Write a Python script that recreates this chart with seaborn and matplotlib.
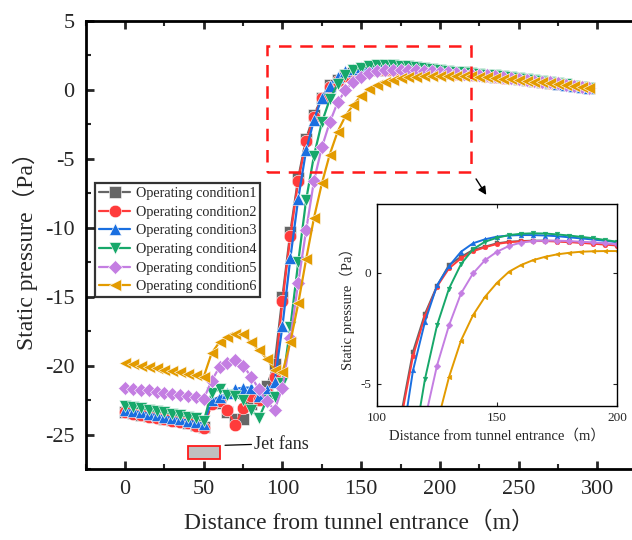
import numpy as np
import pandas as pd
import matplotlib
matplotlib.use("Agg")
import matplotlib.pyplot as plt
import seaborn as sns
from matplotlib.patches import Rectangle
from matplotlib.ticker import MultipleLocator

distance = list(range(0, 300, 5))

cond1 = [-23.35, -23.45, -23.55, -23.65, -23.75, -23.85, -23.95, -24.05, -24.15, -24.3, -24.45,
         -22.7, -22.7, -23.4, -23.9, -23.9, -22.8, -22.5, -21.5, -19.9,
         -15.0, -10.3, -6.4, -3.55, -1.84, -0.59, 0.35, 0.72, 1.03, 1.18, 1.33, 1.40, 1.43, 1.45, 1.45,
         1.43, 1.40, 1.37, 1.34, 1.30, 1.25,
         1.22, 1.18, 1.14, 1.10, 1.05, 1.00, 0.95, 0.89, 0.83, 0.77, 0.71, 0.64, 0.57, 0.50, 0.43,
         0.36, 0.28, 0.20, 0.12]
cond2 = [-23.4, -23.5, -23.6, -23.7, -23.8, -23.9, -24.0, -24.1, -24.2, -24.35, -24.5,
         -22.8, -22.6, -23.2, -24.3, -23.1, -22.2, -22.5, -22.0, -20.8,
         -15.3, -10.6, -6.6, -3.75, -1.95, -0.62, 0.2, 0.65, 0.97, 1.15, 1.30, 1.38, 1.42, 1.43, 1.43,
         1.41, 1.38, 1.35, 1.31, 1.27, 1.23,
         1.20, 1.16, 1.12, 1.08, 1.03, 0.98, 0.93, 0.87, 0.81, 0.75, 0.69, 0.62, 0.55, 0.48, 0.41,
         0.34, 0.26, 0.19, 0.11]
cond3 = [-23.2, -23.3, -23.4, -23.5, -23.6, -23.7, -23.8, -23.9, -24.0, -24.1, -24.25,
         -22.5, -22.3, -22.0, -21.7, -21.6, -21.6, -22.2, -21.8, -21.2,
         -17.1, -12.2, -7.9, -4.4, -2.2, -0.57, 0.30, 0.95, 1.33, 1.51, 1.63, 1.68, 1.70, 1.70, 1.68,
         1.65, 1.60, 1.55, 1.50, 1.44, 1.38,
         1.33, 1.28, 1.23, 1.18, 1.13, 1.07, 1.01, 0.95, 0.89, 0.82, 0.75, 0.68, 0.60, 0.52, 0.44,
         0.36, 0.28, 0.20, 0.13]
cond4 = [-22.9, -23.0, -23.1, -23.2, -23.3, -23.4, -23.5, -23.6, -23.7, -23.8, -24.0,
         -22.0, -21.7, -22.1, -22.2, -22.5, -23.2, -23.8, -22.5, -22.3,
         -21.3, -17.2, -12.5, -8.0, -4.78, -2.37, -0.71, 0.39, 1.06, 1.40, 1.58, 1.70, 1.76, 1.78, 1.77,
         1.73, 1.68, 1.62, 1.56, 1.48, 1.40,
         1.35, 1.30, 1.25, 1.20, 1.15, 1.09, 1.03, 0.97, 0.91, 0.84, 0.77, 0.70, 0.62, 0.54, 0.46,
         0.38, 0.30, 0.22, 0.14]
cond5 = [-21.6, -21.7, -21.75, -21.8, -21.9, -22.0, -22.05, -22.15, -22.2, -22.3, -22.4,
         -21.1, -20.1, -19.8, -19.6, -20.0, -20.8, -21.7, -22.6, -23.2,
         -21.6, -18.0, -14.0, -10.2, -6.6, -4.18, -2.37, -0.93, -0.03, 0.57, 0.95, 1.21, 1.36, 1.43, 1.45,
         1.45, 1.43, 1.40, 1.37, 1.33, 1.28,
         1.25, 1.21, 1.17, 1.13, 1.08, 1.03, 0.98, 0.92, 0.86, 0.80, 0.73, 0.66, 0.59, 0.52, 0.45,
         0.37, 0.29, 0.21, 0.13]
cond6 = [-19.8, -19.9, -20.0, -20.1, -20.2, -20.3, -20.4, -20.5, -20.6, -20.7, -20.8,
         -19.1, -18.3, -17.9, -17.7, -17.7, -18.3, -18.9, -19.5, -20.3,
         -20.5, -18.3, -15.5, -12.3, -9.3, -6.8, -4.7, -3.05, -1.91, -1.08, -0.45, 0.05, 0.35, 0.57, 0.72,
         0.83, 0.90, 0.95, 0.97, 0.98, 0.98,
         0.99, 0.99, 0.98, 0.96, 0.93, 0.89, 0.85, 0.80, 0.75, 0.70, 0.64, 0.58, 0.52, 0.46, 0.39,
         0.32, 0.25, 0.18, 0.11]

labels = ["Operating condition1", "Operating condition2", "Operating condition3",
          "Operating condition4", "Operating condition5", "Operating condition6"]
series = [cond1, cond2, cond3, cond4, cond5, cond6]
colors = ["#666666", "#FF3B3B", "#1A6FE0", "#17A86A", "#C47EE2", "#E39B00"]
markers = ["s", "o", "^", "v", "D", "<"]
msizes = [8, 9, 9, 9, 7.5, 9]

sns.set_style("ticks")
serif = ["Liberation Serif", "Noto Sans CJK SC"]
plt.rcParams["font.family"] = serif
plt.rcParams["axes.unicode_minus"] = False

fig = plt.figure(figsize=(6.32, 5.40), dpi=100)
ax = fig.add_axes([85.7 / 632, 1 - 469 / 540, 1 - 85.7 / 632, (469 - 20.7) / 540])

for lab, vals, c, m, ms in zip(labels, series, colors, markers, msizes):
    df = pd.DataFrame({"x": distance, "y": vals})
    sns.lineplot(data=df, x="x", y="y", ax=ax, color=c, marker=m, markersize=ms,
                 linewidth=1.6, label=lab, markeredgecolor="w", markeredgewidth=0.4,
                 zorder=3)

ax.set_xlim(-25, 322)
ax.set_ylim(-27.5, 5)
ax.xaxis.set_major_locator(MultipleLocator(50))
ax.xaxis.set_minor_locator(MultipleLocator(25))
ax.yaxis.set_major_locator(MultipleLocator(5))
ax.yaxis.set_minor_locator(MultipleLocator(2.5))
ax.tick_params(which="major", direction="in", length=6, width=2, labelsize=16,
               top=True, right=False, pad=8)
ax.tick_params(which="minor", direction="in", length=3.5, width=1.5, top=True, right=False)
for s in ["left", "bottom", "top"]:
    ax.spines[s].set_linewidth(2)
    ax.spines[s].set_color("black")
ax.spines["right"].set_visible(False)
for t in ax.get_xticklabels() + ax.get_yticklabels():
    t.set_family(serif)
ax.set_xlabel("Distance from tunnel entrance（m）", fontsize=17, labelpad=9)
ax.set_ylabel("Static pressure（Pa）", fontsize=17, labelpad=5)

leg = ax.legend(loc="upper left", bbox_to_anchor=(0.017, 0.638), fontsize=10.2,
                frameon=True, fancybox=False, edgecolor="black", borderpad=0.28,
                labelspacing=0.4, handlelength=2.2, handletextpad=0.4, borderaxespad=0)
leg.get_frame().set_linewidth(1.6)

# highlighted zoom area
ax.add_patch(Rectangle((90, -6.0), 130, 9.2, fill=False, edgecolor="#FF1A1A",
                       linestyle=(0, (5, 3.5)), linewidth=1.8, zorder=5))
ax.annotate("", xy=(230.4, -7.8), xytext=(222, -6.3),
            arrowprops=dict(arrowstyle="-|>", color="black", lw=1.0, mutation_scale=12))

# jet fans
ax.add_patch(Rectangle((40, -26.8), 20, 0.95, facecolor="#C0C0C0", edgecolor="#FF1A1A",
                       linewidth=1.3, zorder=4))
ax.plot([63.5, 80.3], [-25.78, -25.72], color="black", lw=0.9)
ax.text(82, -25.75, "Jet fans", fontsize=13, va="center", ha="left", family=serif)

# inset
axin = fig.add_axes([377 / 632, 1 - 406 / 540, 240 / 632, 202 / 540])
for lab, vals, c, m in zip(labels, series, colors, markers):
    df = pd.DataFrame({"x": distance, "y": vals})
    sns.lineplot(data=df, x="x", y="y", ax=axin, color=c, marker=m, markersize=3.4,
                 linewidth=1.4, markeredgecolor=c, markeredgewidth=0.3, legend=False)
axin.set_xlim(100, 200)
axin.set_ylim(-6, 3.1)
axin.xaxis.set_major_locator(MultipleLocator(50))
axin.yaxis.set_major_locator(MultipleLocator(5))
axin.tick_params(direction="in", length=3, width=0.8, labelsize=9.5, top=True, right=True, pad=4)
for s in axin.spines.values():
    s.set_linewidth(1.0)
    s.set_color("black")
for t in axin.get_xticklabels() + axin.get_yticklabels():
    t.set_family(serif)
axin.set_xlabel("Distance from tunnel entrance（m）", fontsize=10.5, labelpad=4)
axin.set_ylabel("Static pressure（Pa）", fontsize=10.5, labelpad=4)

fig.savefig("out.png", dpi=100)
